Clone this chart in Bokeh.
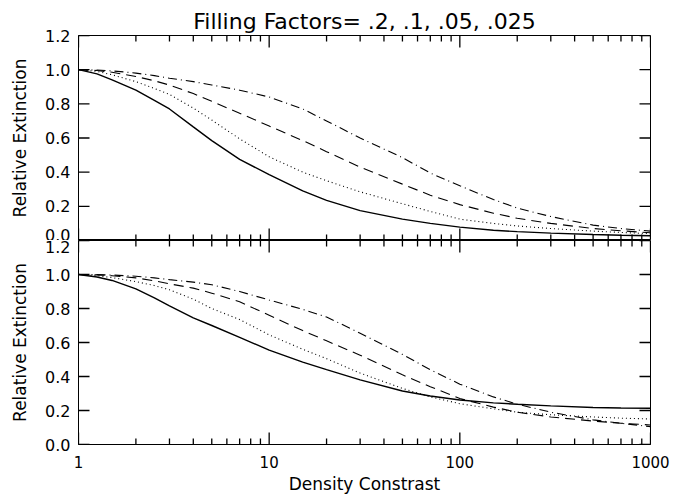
from bokeh.plotting import figure
from bokeh.models import Range1d, LinearAxis, LogAxis, FixedTicker, PrintfTickFormatter
from bokeh.layouts import column
from bokeh.embed import file_html
from bokeh.resources import INLINE

# ---- data ----
density = [1, 1.25, 1.5, 2, 2.5, 3, 4, 5, 7, 10, 15, 20, 30, 50, 70, 100, 150, 200, 300, 500, 700, 1000]

# top panel (filling factors .2, .1, .05, .025)
top_f200 = [1.0, 0.975, 0.94, 0.88, 0.82, 0.77, 0.665, 0.585, 0.475, 0.385, 0.29, 0.235, 0.175, 0.125, 0.10, 0.078, 0.06, 0.052, 0.043, 0.035, 0.031, 0.028]
top_f100 = [1.0, 0.99, 0.97, 0.93, 0.89, 0.855, 0.775, 0.705, 0.595, 0.49, 0.40, 0.35, 0.285, 0.215, 0.17, 0.125, 0.10, 0.085, 0.07, 0.055, 0.047, 0.04]
top_f050 = [1.0, 0.995, 0.985, 0.96, 0.935, 0.91, 0.86, 0.815, 0.745, 0.67, 0.585, 0.52, 0.43, 0.33, 0.265, 0.21, 0.16, 0.13, 0.10, 0.07, 0.057, 0.045]
top_f025 = [1.0, 0.998, 0.993, 0.98, 0.965, 0.95, 0.93, 0.91, 0.88, 0.84, 0.77, 0.70, 0.60, 0.485, 0.395, 0.32, 0.24, 0.19, 0.14, 0.09, 0.07, 0.055]

# bottom panel
bot_f200 = [1.0, 0.985, 0.965, 0.915, 0.862, 0.815, 0.745, 0.70, 0.63, 0.555, 0.485, 0.44, 0.38, 0.315, 0.285, 0.262, 0.245, 0.237, 0.227, 0.218, 0.215, 0.213]
bot_f100 = [1.0, 0.993, 0.982, 0.958, 0.935, 0.91, 0.855, 0.80, 0.735, 0.645, 0.56, 0.505, 0.42, 0.33, 0.28, 0.24, 0.21, 0.19, 0.175, 0.162, 0.155, 0.15]
bot_f050 = [1.0, 0.998, 0.993, 0.98, 0.963, 0.945, 0.92, 0.89, 0.84, 0.76, 0.67, 0.61, 0.525, 0.41, 0.34, 0.27, 0.22, 0.19, 0.162, 0.138, 0.125, 0.115]
bot_f025 = [1.0, 0.999, 0.997, 0.99, 0.98, 0.97, 0.955, 0.94, 0.90, 0.85, 0.795, 0.75, 0.655, 0.53, 0.44, 0.355, 0.28, 0.237, 0.19, 0.145, 0.125, 0.105]

x_major = [1, 10, 100, 1000]
x_minor = [2, 3, 4, 5, 6, 7, 8, 9, 20, 30, 40, 50, 60, 70, 80, 90,
           200, 300, 400, 500, 600, 700, 800, 900]
y_ticks = [0.0, 0.2, 0.4, 0.6, 0.8, 1.0, 1.2]

title_text = "Filling Factors= .2, .1, .05, .025"
x_label = "Density Constrast"
y_label = "Relative Extinction"

FONT = "DejaVu Sans"
styles = [("solid", 1.4), ("1 3", 1.1), ("10 6", 1.1), ("9 4 1 4", 1.1)]
X0, X1, Y0, Y1 = 1, 1000, 0.0, 1.2
FRAME_W = 572
FRAME_H = {True: 205, False: 204}
MAJ, MINOR, YTICK = 12, 6, 11   # tick lengths in pixels


def style_axis(ax, tick_font):
    ax.major_tick_in = 0
    ax.major_tick_out = 0
    ax.minor_tick_in = 0
    ax.minor_tick_out = 0
    ax.axis_line_color = "black"
    ax.axis_line_width = 1
    ax.major_label_text_font = FONT
    ax.major_label_text_font_size = tick_font
    ax.major_label_text_color = "black"
    ax.axis_label_text_font = FONT
    ax.axis_label_text_font_style = "normal"
    ax.axis_label_text_color = "black"


def draw_ticks(p, top):
    # inward tick marks on all four sides, placed at the tick values
    h = FRAME_H[top]
    dy_maj = MAJ * (Y1 - Y0) / h
    dy_min = MINOR * (Y1 - Y0) / h
    fx = 10 ** (YTICK * 3 / FRAME_W)   # 3 decades across the frame width
    kw = dict(line_color="black", line_width=1.3)
    nM, nm, n = len(x_major), len(x_minor), len(y_ticks)
    p.segment(x0=x_major, y0=[Y0] * nM, x1=x_major, y1=[Y0 + dy_maj] * nM, **kw)
    p.segment(x0=x_minor, y0=[Y0] * nm, x1=x_minor, y1=[Y0 + dy_min] * nm, **kw)
    p.segment(x0=x_major, y0=[Y1] * nM, x1=x_major, y1=[Y1 - dy_maj] * nM, **kw)
    p.segment(x0=x_minor, y0=[Y1] * nm, x1=x_minor, y1=[Y1 - dy_min] * nm, **kw)
    p.segment(x0=[X0] * n, y0=y_ticks, x1=[X0 * fx] * n, y1=y_ticks, **kw)
    p.segment(x0=[X1] * n, y0=y_ticks, x1=[X1 / fx] * n, y1=y_ticks, **kw)


def make_panel(series, top):
    p = figure(x_axis_type="log", x_range=Range1d(X0, X1), y_range=Range1d(Y0, Y1),
               x_axis_location=None, y_axis_location=None,
               toolbar_location=None, output_backend="svg",
               width=680, height=(35 + 205) if top else (204 + 52),
               min_border_left=78, min_border_right=30,
               min_border_top=35 if top else 0,
               min_border_bottom=0 if top else 52)
    p.outline_line_color = "black"
    p.outline_line_width = 1
    p.background_fill_color = "white"
    p.border_fill_color = "white"
    p.xgrid.grid_line_color = None
    p.ygrid.grid_line_color = None

    yax = LinearAxis(ticker=FixedTicker(ticks=y_ticks, minor_ticks=[]),
                     formatter=PrintfTickFormatter(format="%.1f"))
    style_axis(yax, "16px")
    yax.major_label_standoff = 8
    yax.axis_label = y_label
    yax.axis_label_standoff = 12
    yax.axis_label_text_font_size = "17px"
    p.add_layout(yax, "left")

    if not top:
        xax = LogAxis(ticker=FixedTicker(ticks=x_major, minor_ticks=x_minor),
                      formatter=PrintfTickFormatter(format="%d"))
        style_axis(xax, "15px")
        xax.major_label_standoff = 11
        xax.axis_label = x_label
        xax.axis_label_standoff = 3
        xax.axis_label_text_font_size = "17px"
        p.add_layout(xax, "below")

    for ys, (dash, w) in zip(series, styles):
        p.line(density, ys, line_color="black", line_width=w, line_dash=dash)

    draw_ticks(p, top)

    if top:
        p.title.text = title_text
        p.title.align = "center"
        p.title.text_font = FONT
        p.title.text_font_size = "22px"
        p.title.text_font_style = "normal"
        p.title.text_color = "black"
        p.title.standoff = 4
    return p


p_top = make_panel([top_f200, top_f100, top_f050, top_f025], True)
p_bot = make_panel([bot_f200, bot_f100, bot_f050, bot_f025], False)

layout = column(p_top, p_bot, spacing=0)

open("out.html", "w").write(file_html(layout, INLINE))
